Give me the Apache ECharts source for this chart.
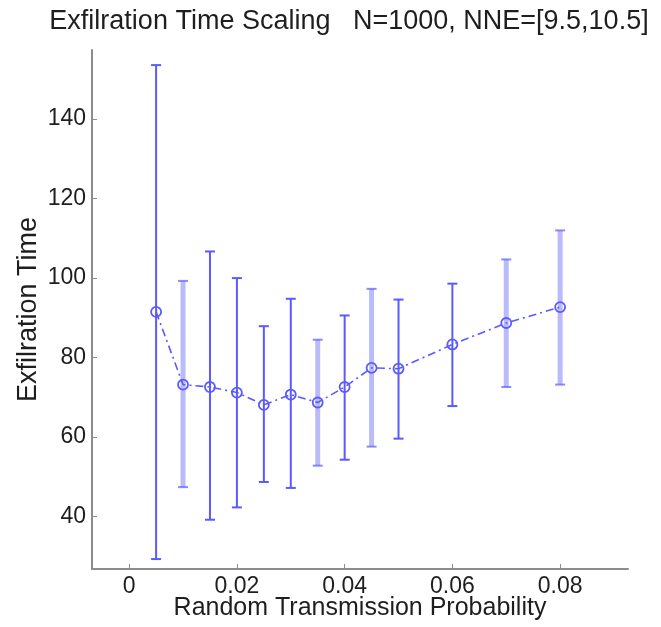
<!DOCTYPE html>
<html>
<head>
<meta charset="utf-8">
<script src="https://cdn.jsdelivr.net/npm/echarts@6/dist/echarts.min.js"></script>
<style>
html,body{margin:0;padding:0;background:#fff;}
#chart{width:661px;height:627px;}
</style>
</head>
<body>
<div id="chart"></div>
<script>
// ---- data ----
const probability = [0.005, 0.01, 0.015, 0.02, 0.025, 0.03, 0.035, 0.04, 0.045, 0.05, 0.06, 0.07, 0.08];
const meanTime    = [91.5, 73.2, 72.6, 71.2, 68.1, 70.7, 68.7, 72.6, 77.4, 77.2, 83.3, 88.7, 92.7];
const upperTime   = [153.6, 99.3, 106.7, 100.0, 87.9, 94.8, 84.5, 90.6, 97.3, 94.6, 98.6, 104.7, 112.0];
const lowerTime   = [29.3, 47.4, 39.2, 42.3, 48.7, 47.2, 52.8, 54.3, 57.6, 59.6, 67.8, 72.6, 73.2];
const xTicks = [0, 0.02, 0.04, 0.06, 0.08];
const yTicks = [40, 60, 80, 100, 120, 140];
// rendering style (anti-aliased look in the original): which bars appear wide/pale
const paleBar = [false, true, false, false, false, false, true, false, true, false, false, true, true];

const chart = echarts.init(document.getElementById('chart'), null, {renderer: 'canvas'});
const blue = '#5a5aff';
const font = '"Liberation Sans", Arial, Helvetica, sans-serif';
const txt = '#1e1e1e';

const errData = probability.map((p, i) => [p, lowerTime[i], upperTime[i], paleBar[i] ? 1 : 0]);
const lineData = probability.map((p, i) => [p, meanTime[i]]);

const option = {
  animation: false,
  backgroundColor: '#fff',
  title: {
    text: 'Exfilration Time Scaling   N=1000, NNE=[9.5,10.5]',
    left: 344, top: 3, textAlign: 'center',
    textStyle: {fontFamily: font, fontSize: 27, fontWeight: 'normal', color: txt}
  },
  grid: {left: 92, right: 33, top: 50, bottom: 58, outerBoundsMode: 'none', containLabel: false},
  xAxis: {
    type: 'value', min: -0.0069, max: 0.0926,
    name: 'Random Transmission Probability', nameLocation: 'middle', nameGap: 27, nameMoveOverlap: false,
    nameTextStyle: {fontFamily: font, fontSize: 25, color: txt},
    axisLine: {show: true, onZero: false, lineStyle: {color: '#8c8c8c', width: 2}},
    axisTick: {show: true, inside: true, length: 5, customValues: xTicks, lineStyle: {color: '#8c8c8c', width: 1}},
    axisLabel: {customValues: xTicks, fontFamily: font, fontSize: 23, color: txt, margin: 6,
      formatter: v => v === 0 ? '0' : v.toFixed(2)},
    splitLine: {show: false}
  },
  yAxis: {
    type: 'value', min: 26.8, max: 157.4,
    name: 'Exfilration Time', nameLocation: 'middle', nameGap: 50, nameMoveOverlap: false,
    nameTextStyle: {fontFamily: font, fontSize: 27, color: txt},
    axisLine: {show: true, onZero: false, lineStyle: {color: '#8c8c8c', width: 2}},
    axisTick: {show: true, inside: true, length: 5, customValues: yTicks, lineStyle: {color: '#8c8c8c', width: 1}},
    axisLabel: {customValues: yTicks, fontFamily: font, fontSize: 23, color: txt, margin: 6},
    splitLine: {show: false}
  },
  series: [
    {
      type: 'custom',
      data: errData,
      z: 2,
      renderItem: function (params, api) {
        const x = api.value(0);
        const lo = api.coord([x, api.value(1)]);
        const hi = api.coord([x, api.value(2)]);
        const pale = api.value(3) === 1;
        const stroke = pale ? 'rgba(90,90,255,0.42)' : blue;
        const w = pale ? 5 : 2;
        const cap = 5;
        return {
          type: 'group',
          children: [
            {type: 'line', shape: {x1: lo[0], y1: lo[1], x2: hi[0], y2: hi[1]}, style: {stroke: stroke, lineWidth: w}},
            {type: 'line', shape: {x1: lo[0] - cap, y1: lo[1], x2: lo[0] + cap, y2: lo[1]}, style: {stroke: blue, lineWidth: 2, opacity: pale ? 0.7 : 1}},
            {type: 'line', shape: {x1: hi[0] - cap, y1: hi[1], x2: hi[0] + cap, y2: hi[1]}, style: {stroke: blue, lineWidth: 2, opacity: pale ? 0.7 : 1}}
          ]
        };
      }
    },
    {
      type: 'line',
      data: lineData,
      z: 3,
      symbol: 'circle',
      symbolSize: 10,
      itemStyle: {color: 'rgba(255,255,255,0)', borderColor: blue, borderWidth: 1.8},
      lineStyle: {color: blue, width: 1.6, type: [8, 4, 2, 4]},
      emphasis: {disabled: true}
    }
  ]
};
chart.setOption(option);
</script>
</body>
</html>
